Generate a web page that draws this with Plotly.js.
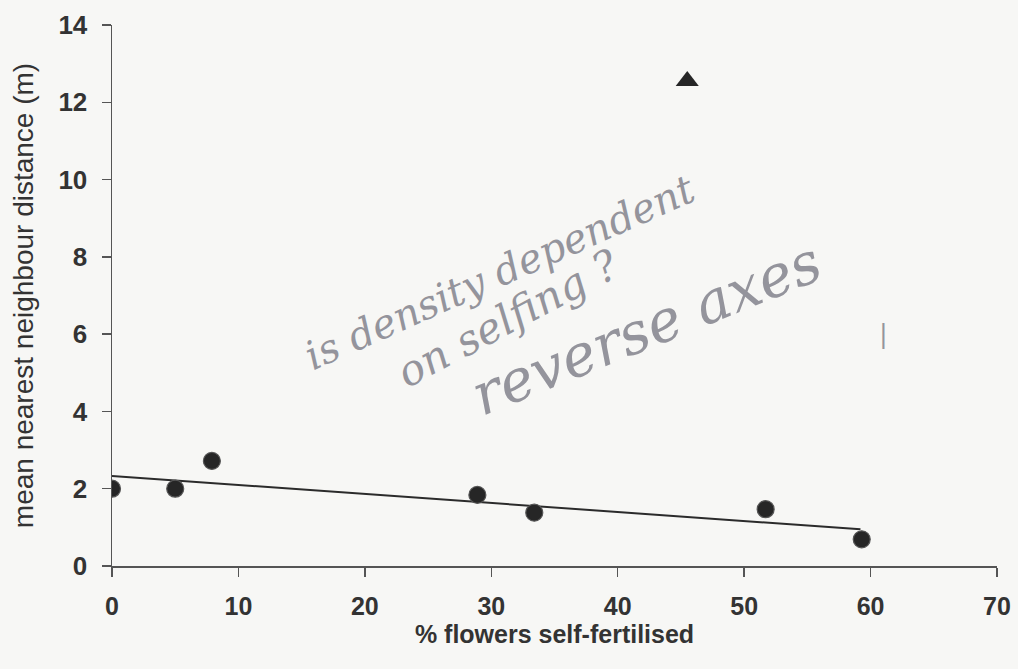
<!DOCTYPE html>
<html>
<head>
<meta charset="utf-8">
<script src="https://cdn.plot.ly/plotly-3.0.1.min.js"></script>
<style>
  html, body { margin: 0; padding: 0; background: #f7f7f5; }
  #chart { width: 1018px; height: 669px; }
</style>
</head>
<body>
<div id="chart"></div>
<script>
// Data
const selfFertilised = [0, 5, 7.9, 28.9, 33.4, 51.7, 59.3];
const nearestDistance = [2.0, 2.0, 2.72, 1.84, 1.38, 1.47, 0.69];
const outlierX = [45.5];
const outlierY = [12.55];
const fitX = [0, 59.2];
const fitY = [2.33, 0.95];
const xTicks = [0, 10, 20, 30, 40, 50, 60, 70];
const yTicks = [0, 2, 4, 6, 8, 10, 12, 14];
const notes = [
  {text: "is density dependent", x: 30.7, y: 7.6, angle: -24, size: 40},
  {text: "on selfing ?", x: 31.3, y: 6.4, angle: -28, size: 42},
  {text: "reverse axes", x: 42.3, y: 6.15, angle: -22, size: 58},
  {text: "|", x: 61.0, y: 6.0, angle: 0, size: 26}
];

const traces = [
  {
    x: fitX, y: fitY, mode: 'lines', type: 'scatter',
    line: {color: '#2b2b2b', width: 2}, hoverinfo: 'skip', showlegend: false
  },
  {
    x: selfFertilised, y: nearestDistance, mode: 'markers', type: 'scatter',
    marker: {symbol: 'circle', size: 17, color: '#262626', line: {color: '#555', width: 1.2}},
    showlegend: false
  },
  {
    x: outlierX, y: outlierY, mode: 'markers', type: 'scatter',
    marker: {symbol: 'triangle-up', size: 20, color: '#262626'},
    showlegend: false
  }
];

const layout = {
  width: 1018, height: 669,
  paper_bgcolor: '#f7f7f5', plot_bgcolor: '#f7f7f5',
  margin: {l: 112, r: 21, t: 25, b: 103},
  showlegend: false,
  xaxis: {
    range: [0, 70], tickvals: xTicks, ticktext: xTicks.map(String),
    showgrid: false, zeroline: false, showline: true, linecolor: '#555', linewidth: 1.5,
    ticks: 'outside', ticklen: 9, tickwidth: 1.5, tickcolor: '#555',
    ticklabelstandoff: 8,
    tickfont: {family: 'Liberation Sans, Arial, sans-serif', size: 25, color: '#333', weight: 'bold'},
    title: {text: '% flowers self-fertilised', standoff: 2,
      font: {family: 'Liberation Sans, Arial, sans-serif', size: 25, color: '#333', weight: 'bold'}}
  },
  yaxis: {
    range: [0, 14], tickvals: yTicks, ticktext: yTicks.map(String),
    showgrid: false, zeroline: false, showline: true, linecolor: '#555', linewidth: 1.5,
    ticks: 'outside', ticklen: 9, tickwidth: 1.5, tickcolor: '#555',
    ticklabelstandoff: 9,
    tickfont: {family: 'Liberation Sans, Arial, sans-serif', size: 26, color: '#333', weight: 'bold'},
    title: {text: 'mean nearest neighbour distance (m)', standoff: 16,
      font: {family: 'Liberation Sans, Arial, sans-serif', size: 28, color: '#333'}}
  },
  annotations: notes.map(n => ({
    x: n.x, y: n.y, xref: 'x', yref: 'y', text: n.text, showarrow: false,
    textangle: n.angle,
    font: {family: 'DejaVu Serif, serif', size: n.size, color: '#94949c', style: 'italic'}
  }))
};

Plotly.newPlot('chart', traces, layout, {displayModeBar: false, staticPlot: true});
</script>
</body>
</html>
